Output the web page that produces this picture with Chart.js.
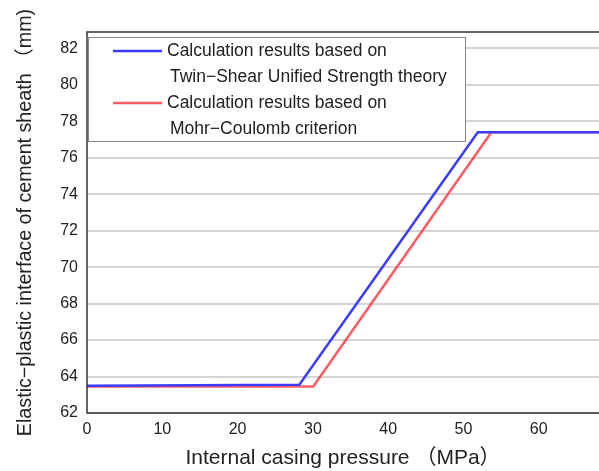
<!DOCTYPE html>
<html>
<head>
<meta charset="utf-8">
<script src="https://cdn.jsdelivr.net/npm/chart.js@4/dist/chart.umd.min.js"></script>
<style>
  html, body { margin: 0; padding: 0; background: #fff; }
  #wrap { width: 599px; height: 471px; }
</style>
</head>
<body>
<div id="wrap"><canvas id="sheath" width="599" height="471"></canvas></div>
<script>
// values
const twinShearX = [0, 28.2, 51.9, 68];
const twinShearY = [63.5, 63.55, 77.4, 77.4];
const mohrX = [0, 30.05, 53.7, 68];
const mohrY = [63.45, 63.45, 77.4, 77.4];

const twinShearLabel = ['Calculation results based on', 'Twin\u2212Shear Unified Strength theory'];
const mohrLabel = ['Calculation results based on', 'Mohr\u2212Coulomb criterion'];

const xTitle = 'Internal casing pressure \uff08MPa\uff09';
const yTitle = 'Elastic\u2212plastic interface of cement sheath \uff08mm)';

const FONT = '"Liberation Sans", Arial, "Noto Sans CJK SC", sans-serif';

const toPoints = (xs, ys) => xs.map((x, i) => ({ x: x, y: ys[i] }));

// frame (left, top, bottom) + boxed legend inside the plot
const frameAndLegend = {
  id: 'frameAndLegend',
  afterDatasetsDraw(chart) {
    const { ctx, chartArea: a } = chart;
    ctx.save();
    ctx.strokeStyle = '#333';
    ctx.lineWidth = 1.5;
    ctx.beginPath();
    ctx.moveTo(a.right + 2, a.top);
    ctx.lineTo(a.left, a.top);
    ctx.lineTo(a.left, a.bottom);
    ctx.lineTo(a.right + 2, a.bottom);
    ctx.stroke();

    // legend box
    const bx = 88, by = 37, bw = 377, bh = 104;
    ctx.fillStyle = '#fff';
    ctx.fillRect(bx, by, bw, bh);
    ctx.strokeStyle = '#888';
    ctx.lineWidth = 1;
    ctx.strokeRect(bx + 0.5, by + 0.5, bw, bh);

    ctx.font = '17.5px ' + FONT;
    ctx.textBaseline = 'middle';
    ctx.fillStyle = '#222';
    chart.data.datasets.forEach((ds, i) => {
      const y0 = 51 + i * 52;
      ctx.strokeStyle = ds.borderColor;
      ctx.lineWidth = 2.5;
      ctx.beginPath();
      ctx.moveTo(113, y0);
      ctx.lineTo(162, y0);
      ctx.stroke();
      ctx.fillText(ds.label[0], 167, y0);
      ctx.fillText(ds.label[1], 170, y0 + 26);
    });
    ctx.restore();
  }
};

new Chart(document.getElementById('sheath'), {
  type: 'line',
  data: {
    datasets: [
      {
        label: twinShearLabel,
        data: toPoints(twinShearX, twinShearY),
        borderColor: 'rgba(60, 60, 255, 1)',
        borderWidth: 2.5,
        pointRadius: 0,
        tension: 0,
        fill: false
      },
      {
        label: mohrLabel,
        data: toPoints(mohrX, mohrY),
        borderColor: 'rgba(255, 50, 60, 0.8)',
        borderWidth: 2.5,
        pointRadius: 0,
        tension: 0,
        fill: false
      }
    ]
  },
  options: {
    responsive: false,
    animation: false,
    layout: { padding: { top: 32, right: 0, left: 0, bottom: 0 } },
    plugins: {
      legend: { display: false },
      tooltip: { enabled: false }
    },
    scales: {
      x: {
        type: 'linear',
        min: 0,
        max: 68,
        border: { display: false },
        grid: { display: false, drawTicks: false },
        ticks: {
          stepSize: 10,
          includeBounds: false,
          maxRotation: 0,
          padding: 7,
          color: '#222',
          font: { family: FONT, size: 16 }
        },
        title: {
          display: true,
          text: xTitle,
          color: '#222',
          padding: { top: 8, bottom: 0 },
          font: { family: FONT, size: 21 }
        },
        afterFit(scale) { scale.height = 58; }
      },
      y: {
        min: 62,
        max: 82.9,
        border: { display: false },
        grid: {
          drawTicks: false,
          lineWidth: ctx => (ctx.tick.value % 2 === 0 ? 2 : 1),
          color: ctx => (ctx.tick.value % 2 === 0 ? '#d4d4d4' : '#f2f2f2')
        },
        ticks: {
          stepSize: 1,
          includeBounds: false,
          padding: 9,
          color: '#222',
          font: { family: FONT, size: 16 },
          callback: v => (v % 2 === 0 ? v : '')
        },
        title: {
          display: true,
          text: yTitle,
          color: '#222',
          padding: { top: 14, bottom: 0 },
          font: { family: FONT, size: 19.7 }
        },
        afterFit(scale) { scale.width = 87; }
      }
    }
  },
  plugins: [frameAndLegend]
});
</script>
</body>
</html>
